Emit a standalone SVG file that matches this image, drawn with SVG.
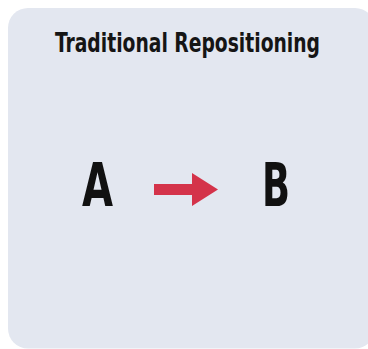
<svg xmlns="http://www.w3.org/2000/svg" width="368" height="349" viewBox="0 0 368 349">
  <style>
    .title { font-family: "DejaVu Sans Condensed", "Liberation Sans Narrow", "Liberation Sans", sans-serif; font-weight: bold; font-size: 26px; fill: #151515; }
    .letter { font-family: "DejaVu Sans Condensed", "Liberation Sans", sans-serif; font-weight: bold; font-size: 60px; fill: #111; }
    .arrow { fill: #d4334a; }
  </style>
  <rect width="368" height="349" fill="#ffffff"/>
  <g id="panel">
    <rect x="8" y="8" width="367" height="340.5" rx="20" fill="#e3e7f0"/>
    <text class="title" x="55" y="52" textLength="265" lengthAdjust="spacingAndGlyphs">Traditional Repositioning</text>
  </g>
  <g id="node-a">
    <text class="letter" x="82" y="206" textLength="31" lengthAdjust="spacingAndGlyphs">A</text>
  </g>
  <g id="node-b">
    <text class="letter" x="262" y="206" textLength="28" lengthAdjust="spacingAndGlyphs">B</text>
  </g>
  <g id="connectors">
    <path class="arrow" d="M154,184 H192 V173 L218,189.5 L192,206 V195 H154 Z"/>
  </g>
</svg>
